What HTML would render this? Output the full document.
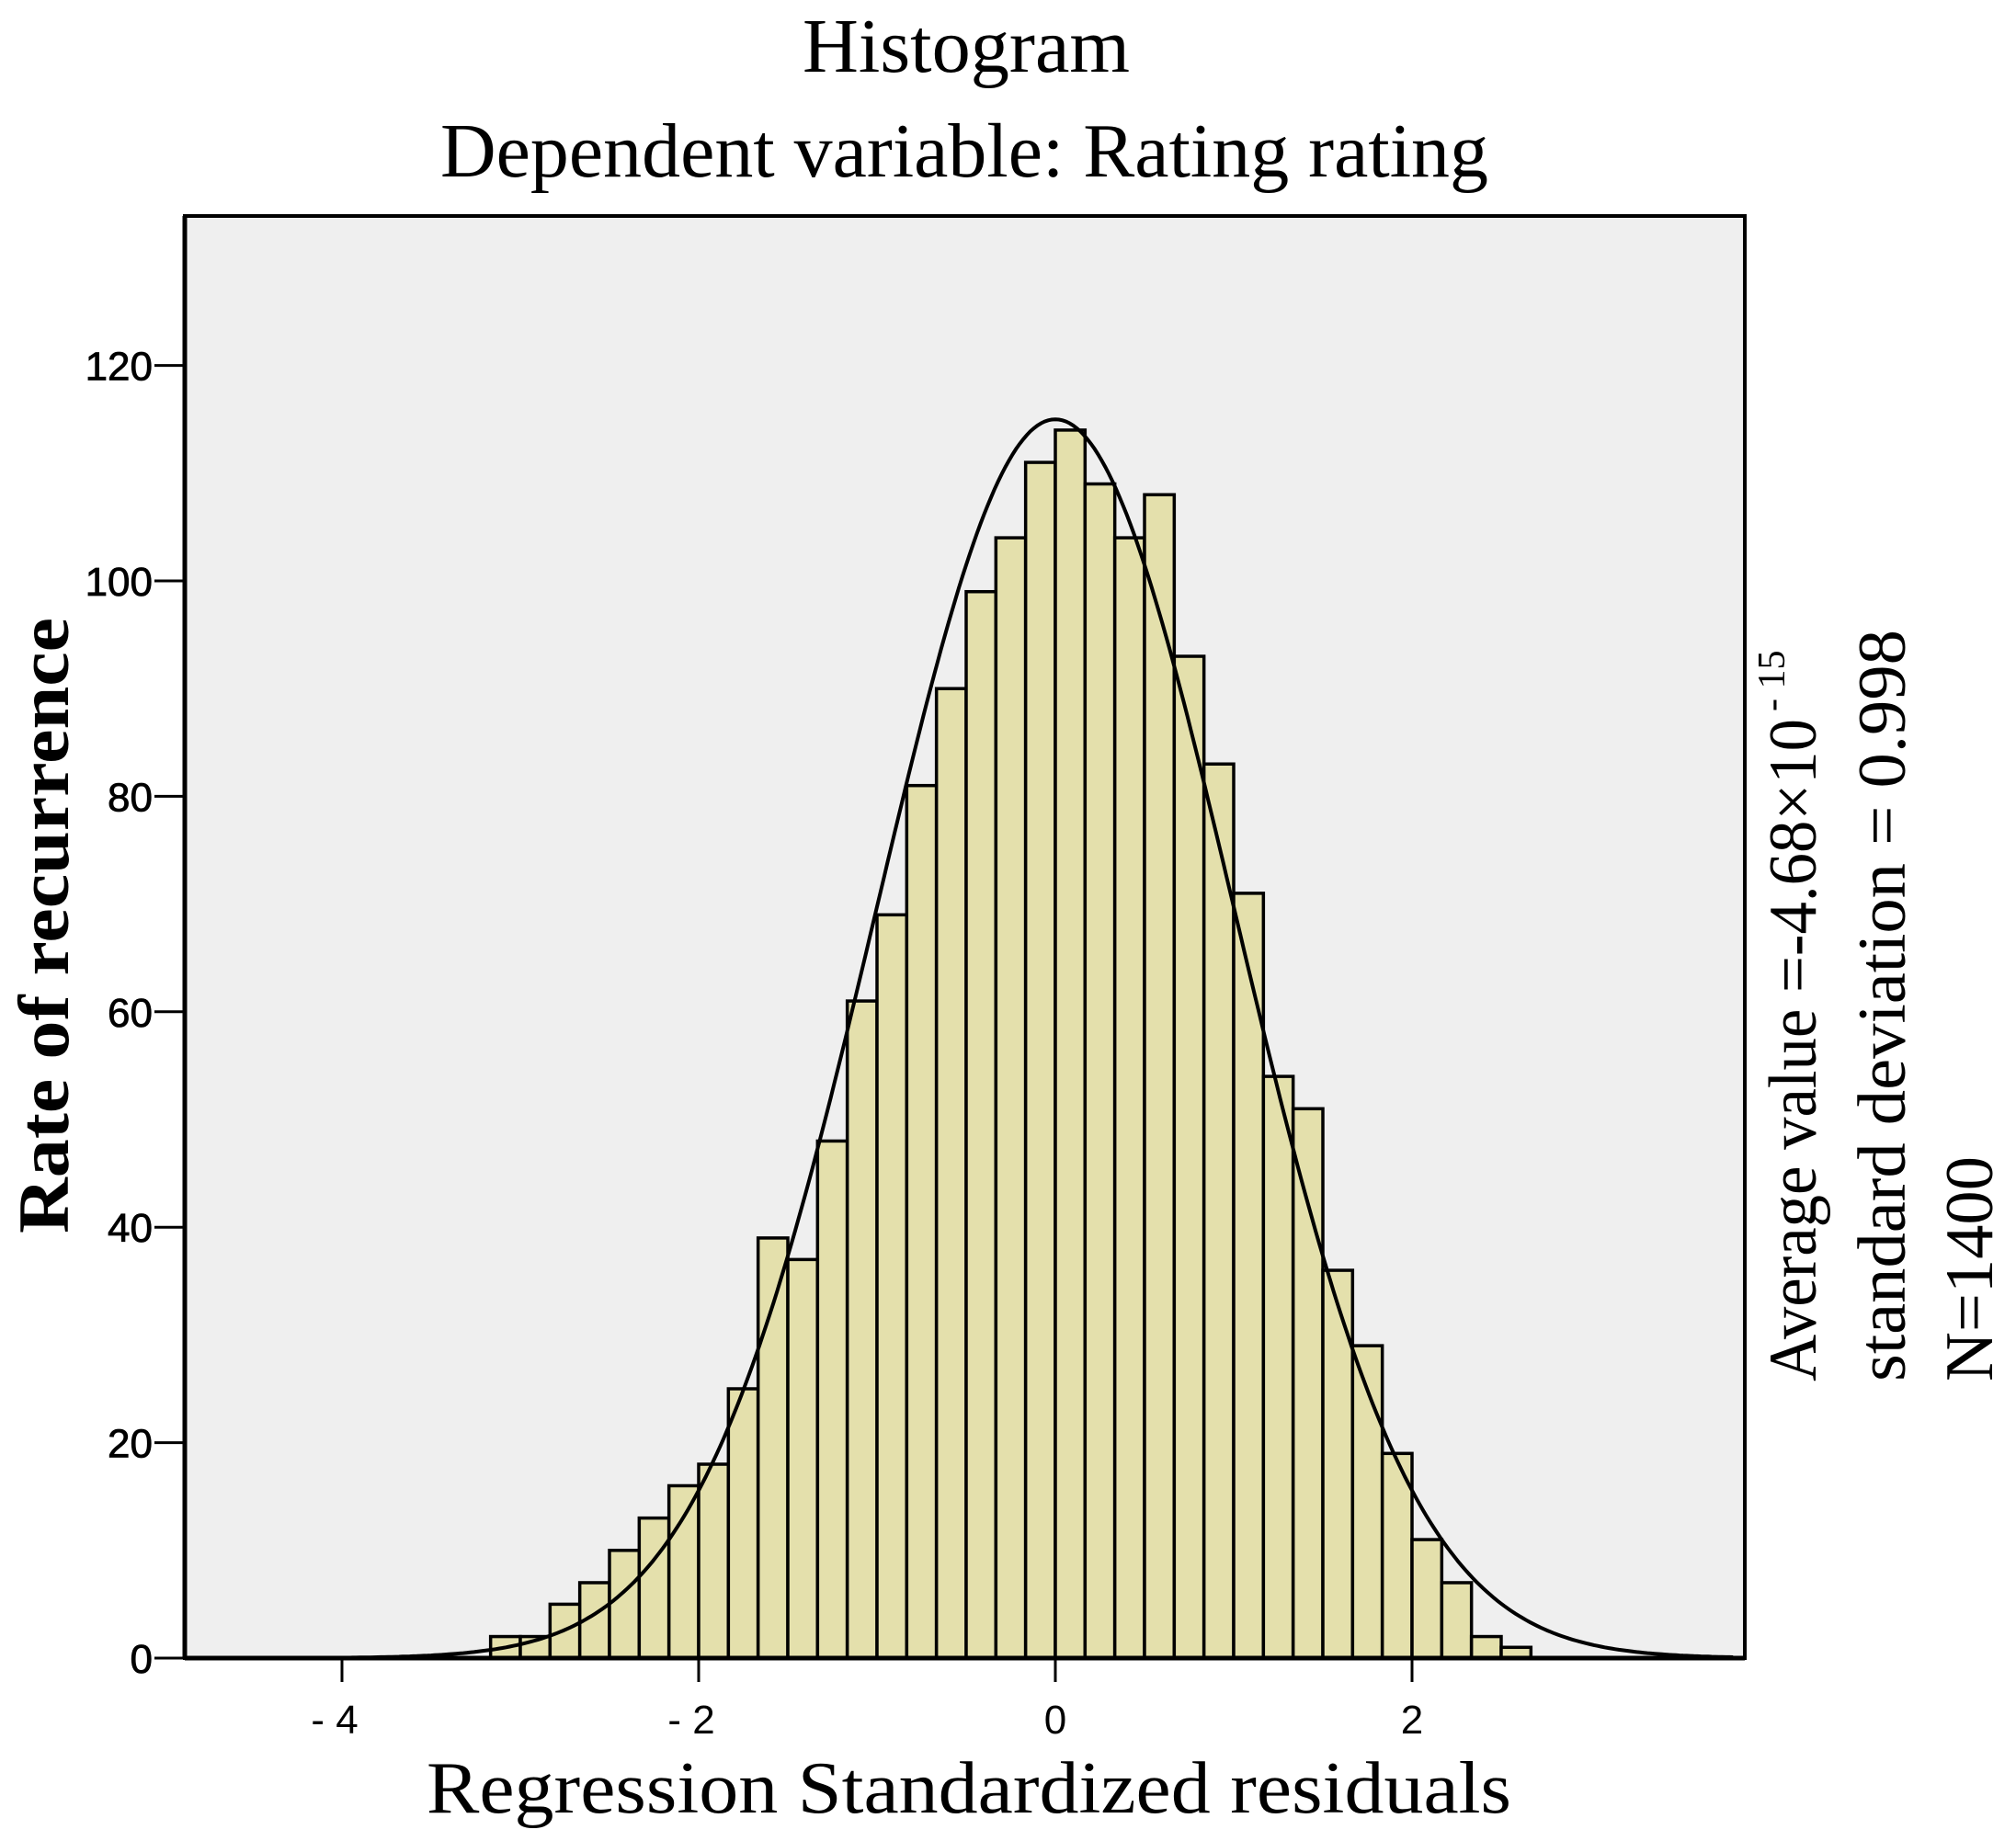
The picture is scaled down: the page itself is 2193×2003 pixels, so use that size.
<!DOCTYPE html>
<html><head><meta charset="utf-8"><style>
html,body{margin:0;padding:0;background:#fff;}
svg{display:block;}
</style></head><body>
<svg id="chart" width="2193" height="2003" viewBox="0 0 2193 2003" xmlns="http://www.w3.org/2000/svg">
<text x="873" y="78" font-family="Liberation Serif, serif" font-size="84" textLength="356" lengthAdjust="spacingAndGlyphs">Histogram</text>
<text x="479" y="192" font-family="Liberation Serif, serif" font-size="84" textLength="1140" lengthAdjust="spacingAndGlyphs">Dependent variable: Rating rating</text>
<rect x="201" y="235" width="1697" height="1569" fill="#efefef"/>
<g id="bars"></g>
<path id="curve" fill="none" stroke="#000" stroke-width="4"/>
<rect x="201" y="235" width="1697" height="1569" fill="none" stroke="#000" stroke-width="4"/>
<line x1="201" y1="1804" x2="1898" y2="1804" stroke="#000" stroke-width="5"/>
<line x1="201" y1="235" x2="201" y2="1804" stroke="#000" stroke-width="5"/>
<g id="yticks"></g>
<g id="xticks"></g>
<text x="1054" y="1972" text-anchor="middle" font-family="Liberation Serif, serif" font-size="80" textLength="1180" lengthAdjust="spacingAndGlyphs">Regression  Standardized residuals</text>
<text transform="translate(74,1342) rotate(-90)" font-family="Liberation Serif, serif" font-weight="bold" font-size="78" textLength="670" lengthAdjust="spacingAndGlyphs">Rate of recurrence</text>
<text transform="translate(1975,1503) rotate(-90)" font-family="Liberation Serif, serif" font-size="74"><tspan textLength="721" lengthAdjust="spacingAndGlyphs">Average value =-4.68×10</tspan><tspan dx="8" dy="-34" font-size="42">- 15</tspan></text>
<text transform="translate(2072,1503) rotate(-90)" font-family="Liberation Serif, serif" font-size="74" textLength="818" lengthAdjust="spacingAndGlyphs">standard deviation = 0.998</text>
<text transform="translate(2167,1503) rotate(-90)" font-family="Liberation Serif, serif" font-size="74" textLength="245" lengthAdjust="spacingAndGlyphs">N=1400</text>
</svg>
<script>
const binStarts = [-19,-18,-17,-16,-15,-14,-13,-12,-11,-10,-9,-8,-7,-6,-5,-4,-3,-2,-1,0,1,2,3,4,5,6,7,8,9,10,11,12,13,14,15];
const counts = [2,2,5,7,10,13,16,18,25,39,37,48,61,69,81,90,99,104,111,114,109,104,108,93,83,71,54,51,36,29,19,11,7,2,1];
const binWidth = [1/6];
const curveMean = [0];
const curveSd = [1.0];
const curvePeak = [115];
const yTicks = [0,20,40,60,80,100,120];
const xTicks = [-4,-2,0,2];
const xTickLabels = ["- 4","- 2","0","2"];

const NS = "http://www.w3.org/2000/svg";
function xs(v){ return 1148 + v*194; }
function ys(v){ return 1804 - v*11.72; }
function mk(tag, attrs, parent){ const e=document.createElementNS(NS,tag); for(const k in attrs) e.setAttribute(k,attrs[k]); parent.appendChild(e); return e; }

const bars = document.getElementById('bars');
binStarts.forEach((b,i)=>{
  const x0 = xs(b*binWidth[0]), x1 = xs((b+1)*binWidth[0]);
  const r = mk('rect',{x:x0,y:ys(counts[i]),width:x1-x0,height:ys(0)-ys(counts[i]),fill:'#e4e0ac',stroke:'#000','stroke-width':3.5},bars);
  
  
});

let d = '';
for (let v = -4.7; v <= 3.8; v += 0.02) {
  const z = (v - curveMean[0]) / curveSd[0];
  const c = curvePeak[0] * Math.exp(-0.5*z*z);
  d += (d ? 'L' : 'M') + xs(v).toFixed(1) + ',' + ys(c).toFixed(1);
}
document.getElementById('curve').setAttribute('d', d);

const yt = document.getElementById('yticks');
yTicks.forEach(t=>{
  const l = mk('line',{x1:168,x2:201,y1:ys(t),y2:ys(t),stroke:'#000','stroke-width':3},yt);
  
  
  const tx = mk('text',{x:166,y:ys(t)+16,'text-anchor':'end','font-family':'Liberation Sans, sans-serif','font-size':44,'stroke':'#000','stroke-width':0.8},yt);
  tx.textContent = t;
  
  
});
const xt = document.getElementById('xticks');
xTicks.forEach((t,i)=>{
  const l = mk('line',{x1:xs(t),x2:xs(t),y1:1804,y2:1830,stroke:'#000','stroke-width':3},xt);
  
  
  const tx = mk('text',{x:xs(t)-(t<0?8:0),y:1886,'text-anchor':'middle','font-family':'Liberation Sans, sans-serif','font-size':44},xt);
  tx.textContent = xTickLabels[i];
  
  
});
</script>
</body></html>
